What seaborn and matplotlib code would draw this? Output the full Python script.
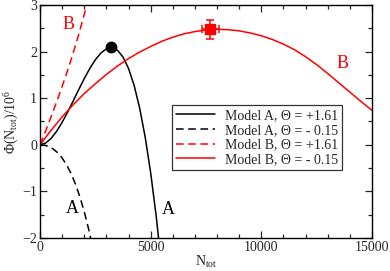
import numpy as np
import pandas as pd
import matplotlib
matplotlib.use("Agg")
import matplotlib.pyplot as plt
from matplotlib.ticker import MultipleLocator
import seaborn as sns

# ---- data ----
n_a_plus = [0, 250, 500, 750, 1000, 1250, 1500, 1750, 2000, 2250, 2500, 2750, 3000,
            3250, 3500, 3750, 4000, 4250, 4500, 4750, 5000, 5250, 5500]
phi_a_plus = [0, 0.036, 0.136, 0.289, 0.482, 0.703, 0.941, 1.185, 1.421, 1.638, 1.825,
              1.969, 2.059, 2.083, 2.029, 1.884, 1.638, 1.279, 0.794, 0.171, -0.60,
              -1.532, -2.638]

n_a_minus = [0, 200, 400, 600, 800, 1000, 1200, 1400, 1600, 1800, 2000, 2200, 2400]
phi_a_minus = [0, -0.009, -0.038, -0.091, -0.171, -0.283, -0.429, -0.614, -0.841,
               -1.114, -1.437, -1.814, -2.247]

n_b_plus = [0, 250, 500, 750, 1000, 1250, 1500, 1750, 2000, 2250]
phi_b_plus = [0, 0.29, 0.60, 0.92, 1.25, 1.60, 1.97, 2.37, 2.80, 3.25]

n_b_minus = [0, 500, 1000, 1500, 2000, 2500, 3000, 3500, 4000, 4500, 5000, 5500, 6000,
             6500, 7000, 7500, 8000, 8500, 9000, 9500, 10000, 10500, 11000, 11500,
             12000, 12500, 13000, 13500, 14000, 14500, 15000]
phi_b_minus = [0, 0.31, 0.60, 0.86, 1.10, 1.31, 1.51, 1.69, 1.85, 1.99, 2.11, 2.22, 2.31,
               2.38, 2.43, 2.465, 2.48, 2.47, 2.445, 2.40, 2.34, 2.26, 2.16, 2.04,
               1.89, 1.72, 1.53, 1.33, 1.13, 0.93, 0.74]

labels = ["Model A, \u0398 = +1.61", "Model A, \u0398 = - 0.15",
          "Model B, \u0398 = +1.61", "Model B, \u0398 = - 0.15"]

dot_a = (3210, 2.09)
sq_b = (7700, 2.48)
sq_b_xerr = 390
sq_b_yerr = 0.2

# ---- style ----
sns.set_style("ticks")
plt.rcParams["font.family"] = ["Liberation Serif", "DejaVu Serif"]
plt.rcParams["mathtext.fontset"] = "custom"
plt.rcParams["mathtext.rm"] = "Liberation Serif"
plt.rcParams["mathtext.it"] = "Liberation Serif:italic"

fig = plt.figure(figsize=(3.9, 2.71), dpi=100)
ax = fig.add_axes([40 / 390, 1 - 238 / 271, 332 / 390, 233 / 271])

series = [
    (n_a_plus, phi_a_plus, labels[0], "black", "-"),
    (n_a_minus, phi_a_minus, labels[1], "black", (0, (5, 3))),
    (n_b_plus, phi_b_plus, labels[2], "#ff0000", (0, (5, 3))),
    (n_b_minus, phi_b_minus, labels[3], "#ff0000", "-"),
]
for xs, ys, lab, col, ls in series:
    df = pd.DataFrame({"N": xs, "Phi": ys})
    sns.lineplot(data=df, x="N", y="Phi", ax=ax, color=col, linestyle=ls,
                 linewidth=1.1, label=lab, sort=False, estimator=None)

ax.plot([dot_a[0]], [dot_a[1]], "o", color="black", markersize=7.5, zorder=5)
ax.errorbar([sq_b[0]], [sq_b[1]], xerr=[sq_b_xerr], yerr=[sq_b_yerr], fmt="s",
            color="#ff0000", markersize=6.5, capsize=3, elinewidth=1.1,
            capthick=1.1, zorder=5)

ax.text(1300, 2.58, "B", color="#ff0000", fontsize=13, ha="center", va="center")
ax.text(13680, 1.75, "B", color="#ff0000", fontsize=13, ha="center", va="center")
ax.text(1480, -1.36, "A", color="black", fontsize=13, ha="center", va="center")
ax.text(5800, -1.38, "A", color="black", fontsize=13, ha="center", va="center")

ax.set_xlim(0, 15000)
ax.set_ylim(-2, 3)
ax.xaxis.set_major_locator(MultipleLocator(5000))
ax.xaxis.set_minor_locator(MultipleLocator(1000))
ax.yaxis.set_major_locator(MultipleLocator(1))
ax.yaxis.set_minor_locator(MultipleLocator(0.5))
ax.tick_params(which="both", direction="in", top=True, right=True, labelsize=10,
               pad=2)
ax.tick_params(which="major", length=5, width=0.9)
ax.tick_params(which="minor", length=3, width=0.9)
for sp in ax.spines.values():
    sp.set_visible(True)
    sp.set_linewidth(1.0)
    sp.set_color("black")

ax.set_xlabel("N$_{\\rm tot}$", fontsize=10, labelpad=0)
ax.set_ylabel("\u03a6(N$_{\\rm tot}$)/10$^{6}$", fontsize=10, labelpad=1)

leg = ax.legend(loc="upper left", bbox_to_anchor=((172 - 40) / 332, (238 - 105) / 233),
                frameon=True, fancybox=False, fontsize=10, handlelength=2.8,
                handletextpad=0.7, borderpad=0.3, labelspacing=0.12,
                borderaxespad=0)
leg.get_frame().set_edgecolor("black")
leg.get_frame().set_linewidth(0.9)

fig.savefig("out.png", dpi=100)
